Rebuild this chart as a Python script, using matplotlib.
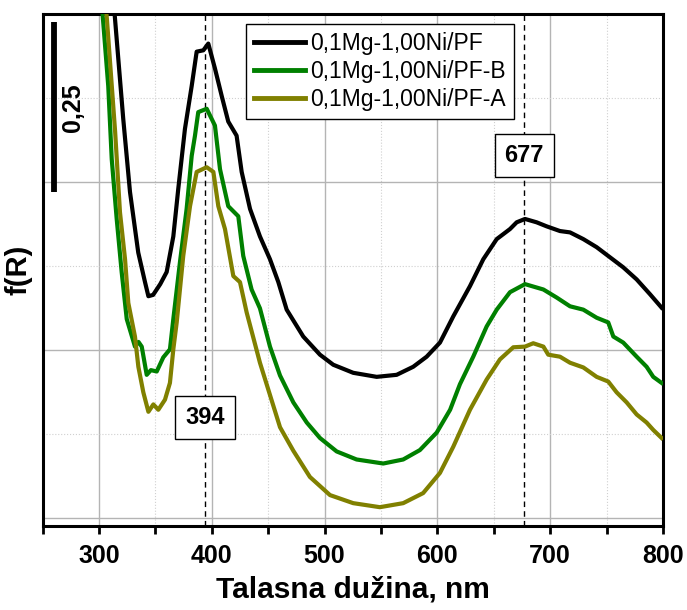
import matplotlib
matplotlib.use("Agg")
import matplotlib.pyplot as plt
from matplotlib.ticker import MultipleLocator, NullFormatter

plt.rcParams['font.family'] = ['Liberation Sans', 'DejaVu Sans']

labels = ["0,1Mg-1,00Ni/PF", "0,1Mg-1,00Ni/PF-B", "0,1Mg-1,00Ni/PF-A"]
colors = ["#000000", "#008000", "#808000"]

x_black = [310, 314.2, 321.5, 327.5, 334.8, 340.8, 343.8, 348, 354.3, 360, 365.9, 370.3, 376.2,
           382.2, 386.6, 392.5, 396.9, 402.8, 408.8, 414.6, 422, 426.5, 433.9, 442.7, 451.6, 459,
           466.4, 481.1, 495.9, 507.7, 525.4, 546.2, 563.9, 578.6, 590.5, 602.3, 614.1, 628.9,
           640.7, 652.6, 664.4, 670.3, 677.7, 688, 696.9, 708.7, 717.6, 729.4, 741.2, 753, 764.8,
           776.7, 788.5, 798.8]
y_black = [0.83, 0.743, 0.594, 0.485, 0.395, 0.351, 0.330, 0.332, 0.348, 0.366, 0.419, 0.490, 0.579,
           0.643, 0.694, 0.696, 0.706, 0.669, 0.628, 0.590, 0.569, 0.515, 0.460, 0.419, 0.385, 0.351,
           0.310, 0.270, 0.243, 0.228, 0.216, 0.210, 0.213, 0.225, 0.240, 0.261, 0.300, 0.345,
           0.385, 0.415, 0.430, 0.440, 0.445, 0.440, 0.434, 0.427, 0.425, 0.415, 0.403, 0.388, 0.373,
           0.355, 0.333, 0.313]

x_green = [300, 303.5, 308.2, 311.3, 315.7, 320.1, 324.6, 331.9, 335, 337.9, 342.3, 346, 351.2, 357,
           362.9, 365.9, 371.8, 377.7, 382.2, 385.1, 388, 395.5, 402.8, 407.3, 414.6, 423.5, 427.9,
           435.3, 442.7, 451.6, 460.5, 472.3, 484.2, 495.9, 510.7, 528.4, 552, 569.7, 584.5, 599.4,
           611.3, 620, 631.8, 643.7, 652.6, 664.4, 677.7, 694, 705.8, 717.6, 729.4, 741.2, 751.5,
           756, 764.8, 776.7, 785.5, 791.4, 798.8]
y_green = [0.82, 0.743, 0.643, 0.534, 0.445, 0.366, 0.296, 0.255, 0.262, 0.255, 0.213, 0.220, 0.218, 0.239,
           0.251, 0.296, 0.381, 0.460, 0.539, 0.569, 0.604, 0.609, 0.584, 0.519, 0.464, 0.449, 0.390,
           0.340, 0.312, 0.255, 0.212, 0.172, 0.142, 0.119, 0.099, 0.087, 0.081, 0.087, 0.101, 0.127,
           0.161, 0.199, 0.240, 0.285, 0.310, 0.336, 0.348, 0.340, 0.328, 0.315, 0.310, 0.298, 0.291,
           0.270, 0.261, 0.240, 0.225, 0.210, 0.201]

x_olive = [303, 307, 314.3, 318.6, 323.1, 326, 331.9, 334.9, 339.3, 343.8, 348.2, 352.6, 358.5, 362.9,
           365.9, 368.9, 374.7, 380.7, 386.6, 395.5, 401.4, 405.8, 411.7, 419.1, 425, 430.9, 442.7,
           451.6, 460.5, 472.3, 487, 504.8, 525.4, 549, 569.7, 587.4, 602.3, 614.1, 628.9, 643.7,
           655.5, 667.3, 677.7, 685, 694, 698.3, 708.7, 717.6, 729.4, 741.2, 751.5, 758.9, 767.8,
           776.7, 785.5, 791.4, 798.8]
y_olive = [0.82, 0.743, 0.575, 0.455, 0.385, 0.320, 0.270, 0.225, 0.187, 0.158, 0.169, 0.161, 0.176, 0.201,
           0.251, 0.291, 0.390, 0.464, 0.515, 0.522, 0.515, 0.464, 0.430, 0.360, 0.351, 0.306, 0.231,
           0.183, 0.135, 0.100, 0.061, 0.034, 0.022, 0.016, 0.022, 0.037, 0.067, 0.106, 0.161, 0.206,
           0.236, 0.254, 0.255, 0.260, 0.255, 0.243, 0.240, 0.231, 0.224, 0.210, 0.203, 0.187, 0.172,
           0.154, 0.142, 0.131, 0.119]

peaks = [394, 677]
scale_value = "0,25"

fig = plt.figure(figsize=(6.87, 6.10), dpi=100)
ax = fig.add_axes([0.062, 0.1377, 0.903, 0.8393])

for xs, ys, c, lab in zip([x_black, x_green, x_olive], [y_black, y_green, y_olive], colors, labels):
    ax.plot(xs, ys, color=c, lw=3, label=lab, zorder=3, solid_joinstyle='round')

ax.set_xlim(250, 800)
ax.set_ylim(-0.012, 0.75)

ax.xaxis.set_major_locator(MultipleLocator(100))
ax.xaxis.set_minor_locator(MultipleLocator(50))
ax.yaxis.set_major_locator(MultipleLocator(0.25))
ax.yaxis.set_minor_locator(MultipleLocator(0.125))
ax.yaxis.set_major_formatter(NullFormatter())
ax.tick_params(axis='y', which='both', length=0)
ax.tick_params(axis='x', which='both', direction='out', length=6, width=2)
ax.tick_params(axis='x', which='major', labelsize=18, pad=7)
for t in ax.get_xticklabels():
    t.set_fontweight('bold')

ax.grid(which='major', color='#b4b4b4', lw=1.0, ls='-', zorder=0)
ax.grid(which='minor', color='#d0d0d0', lw=0.8, ls=':', zorder=0)
for s in ax.spines.values():
    s.set_linewidth(2.2)

# dashed peak lines
for p in peaks:
    ax.axvline(p, color='black', lw=1.0, ls=(0, (4, 3)), zorder=2)

box = dict(boxstyle='square,pad=0.42', fc='white', ec='black', lw=1.0)
ax.text(peaks[0], 0.150, str(peaks[0]), ha='center', va='center', fontsize=17,
        fontweight='bold', bbox=box, zorder=5)
ax.text(peaks[1], 0.540, str(peaks[1]), ha='center', va='center', fontsize=17,
        fontweight='bold', bbox=box, zorder=5)

# scale bar
ax.plot([260, 260], [0.485, 0.738], color='black', lw=4.2, solid_capstyle='butt', zorder=4)
ax.text(277, 0.61, scale_value, rotation=90, ha='center', va='center', fontsize=18,
        fontweight='bold')

ax.set_xlabel("Talasna dužina, nm", fontsize=21.5, fontweight='bold', labelpad=5)
ax.set_ylabel("f(R)", fontsize=21, fontweight='bold', labelpad=4)

leg = ax.legend(loc='upper left', bbox_to_anchor=(0.328, 0.98), fontsize=16.5, frameon=True,
                fancybox=False, edgecolor='black', framealpha=1, borderaxespad=0,
                handlelength=2.2, handletextpad=0.25, borderpad=0.35, labelspacing=0.22)
leg.get_frame().set_linewidth(1.0)
for l in leg.get_lines():
    l.set_linewidth(3.5)

fig.savefig("out.png", dpi=100)
